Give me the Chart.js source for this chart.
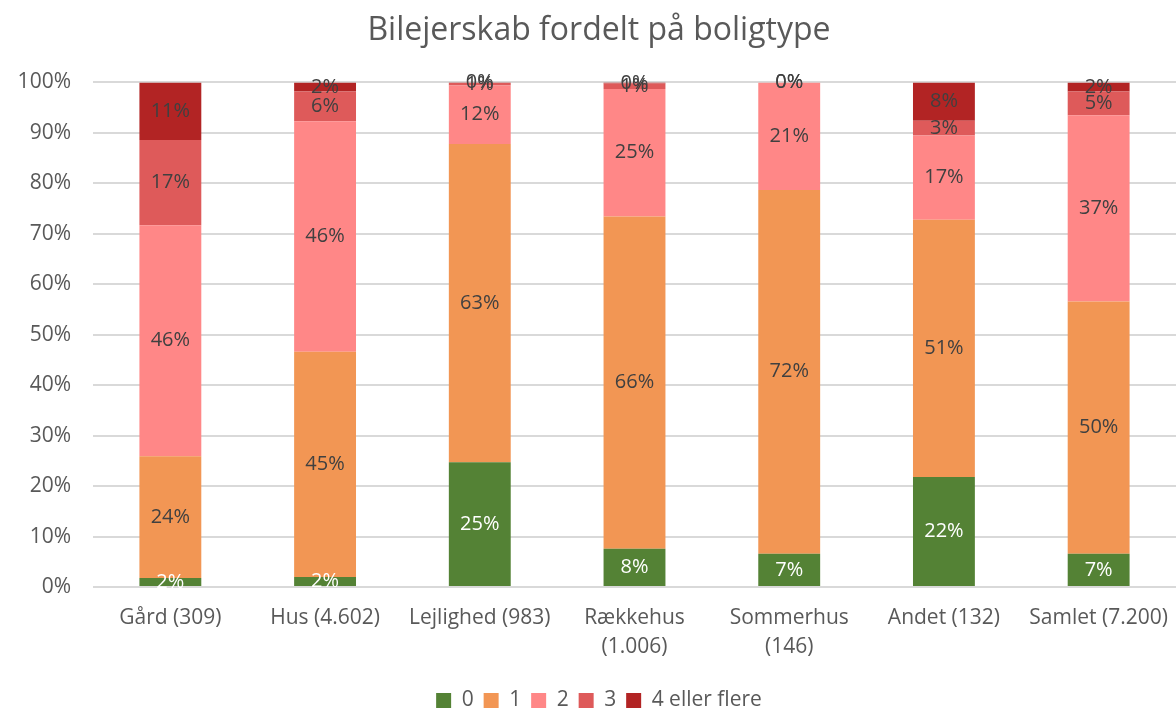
<!DOCTYPE html>
<html lang="da">
<head>
<meta charset="utf-8">
<title>Bilejerskab fordelt på boligtype</title>
<script src="https://cdn.jsdelivr.net/npm/chart.js@4/dist/chart.umd.min.js"></script>
<style>
  html, body { margin: 0; padding: 0; background: #fff; }
  #wrap { width: 1176px; height: 710px; position: relative; }
</style>
</head>
<body>
<div id="wrap"><canvas id="chart"></canvas></div>
<script>
// Kategorier (boligtype med antal svar)
const categories = [
  'Gård (309)',
  'Hus (4.602)',
  'Lejlighed (983)',
  ['Rækkehus', '(1.006)'],
  ['Sommerhus', '(146)'],
  'Andet (132)',
  'Samlet (7.200)'
];

// Andel (%) efter antal biler
const biler0 = [1.8, 2.0, 24.7, 7.6, 6.6, 21.8, 6.6];
const biler1 = [24.1, 44.6, 63.1, 65.8, 72.1, 51.0, 50.0];
const biler2 = [45.8, 45.7, 11.6, 25.3, 21.3, 16.7, 36.9];
const biler3 = [16.9, 5.9, 0.5, 1.1, 0.0, 2.9, 4.7];
const biler4 = [11.4, 1.8, 0.1, 0.2, 0.0, 7.6, 1.8];

const seriesNames = ['0', '1', '2', '3', '4 eller flere'];
const yTicks = [0, 10, 20, 30, 40, 50, 60, 70, 80, 90, 100];

const FONT = "'Open Sans', 'Liberation Sans', sans-serif";
const colors = ['#548235', '#F29654', '#FF8787', '#DE5A5A', '#B22424'];

// Etiketter midt i hvert segment
const segmentLabels = {
  id: 'segmentLabels',
  afterDatasetsDraw(chart) {
    const ctx = chart.ctx;
    ctx.save();
    ctx.font = `20px ${FONT}`;
    ctx.textAlign = 'center';
    ctx.textBaseline = 'middle';
    chart.data.datasets.forEach((ds, i) => {
      const meta = chart.getDatasetMeta(i);
      ctx.fillStyle = i === 0 ? '#ffffff' : '#404040';
      meta.data.forEach((bar, j) => {
        const v = ds.data[j];
        ctx.fillText(Math.round(v) + '%', bar.x, (bar.y + bar.base) / 2);
      });
    });
    ctx.restore();
  }
};

const series = [biler0, biler1, biler2, biler3, biler4];

new Chart(document.getElementById('chart'), {
  type: 'bar',
  data: {
    labels: categories,
    datasets: series.map((data, i) => ({
      label: seriesNames[i],
      data,
      backgroundColor: colors[i],
      borderWidth: 0,
      barPercentage: 0.4,
      categoryPercentage: 1
    }))
  },
  options: {
    responsive: true,
    maintainAspectRatio: false,
    animation: false,
    layout: { padding: { left: 18, right: -4, top: 12, bottom: -11 } },
    plugins: {
      title: {
        display: true,
        text: 'Bilejerskab fordelt på boligtype',
        color: '#595959',
        font: { family: FONT, size: 32, weight: 'normal' },
        padding: { top: 0, bottom: 32 }
      },
      legend: {
        position: 'bottom',
        labels: {
          color: '#595959',
          font: { family: FONT, size: 21 },
          boxWidth: 15,
          boxHeight: 15,
          padding: 10
        }
      },
      tooltip: { enabled: false }
    },
    scales: {
      x: {
        stacked: true,
        grid: { display: false, drawTicks: true, tickLength: 17 },
        border: { display: false },
        afterFit(scale) { scale.height = 93; },
        ticks: {
          color: '#595959',
          font: { family: FONT, size: 21, lineHeight: 1.35 },
          maxRotation: 0,
          autoSkip: false,
          padding: 0
        }
      },
      y: {
        stacked: true,
        min: 0,
        max: 100,
        afterBuildTicks(scale) {
          scale.ticks = yTicks.map(v => ({ value: v }));
        },
        afterFit(scale) { scale.width = 75; },
        grid: { color: '#D9D9D9', lineWidth: 2, drawTicks: false },
        border: { display: false },
        ticks: {
          color: '#595959',
          font: { family: FONT, size: 21 },
          padding: 22,
          callback: v => v + '%'
        }
      }
    }
  },
  plugins: [segmentLabels]
});
</script>
</body>
</html>
